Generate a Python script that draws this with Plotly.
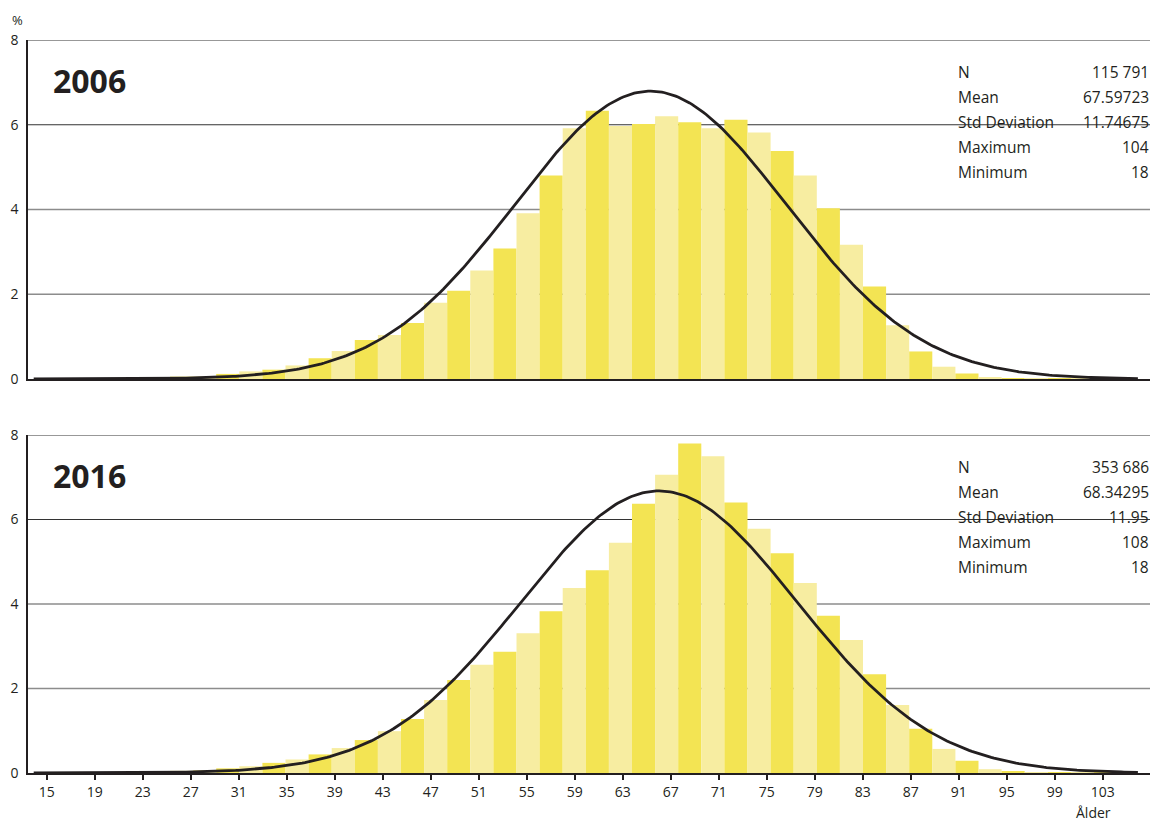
import numpy as np
import plotly.graph_objects as go

W, H = 1152, 823

# ---------------- data ----------------
bin_start = list(range(18, 108, 2))  # 2-year age bins (start age)

pct_2006 = [0.005, 0.01, 0.02, 0.03, 0.055, 0.06, 0.12, 0.18, 0.22, 0.32,
            0.49, 0.66, 0.92, 1.04, 1.32, 1.80, 2.08, 2.56, 3.08, 3.91,
            4.80, 5.92, 6.33, 5.97, 6.02, 6.20, 6.06, 5.92, 6.12, 5.82,
            5.38, 4.80, 4.03, 3.17, 2.18, 1.27, 0.65, 0.29, 0.13, 0.04,
            0.02, 0.01, 0.005, 0.002, 0.0]

pct_2016 = [0.005, 0.01, 0.02, 0.03, 0.05, 0.07, 0.11, 0.16, 0.24, 0.32,
            0.44, 0.59, 0.78, 0.99, 1.28, 1.73, 2.20, 2.56, 2.87, 3.31,
            3.83, 4.38, 4.80, 5.45, 6.37, 7.06, 7.80, 7.50, 6.40, 5.78,
            5.20, 4.50, 3.72, 3.15, 2.34, 1.61, 1.05, 0.57, 0.29, 0.09,
            0.03, 0.015, 0.01, 0.005, 0.003]

stat_labels = ["N", "Mean", "Std Deviation", "Maximum", "Minimum"]
stats_2006 = ["115 791", "67.59723", "11.74675", "104", "18"]
stats_2016 = ["353 686", "68.34295", "11.95", "108", "18"]
mean_2006, sd_2006 = 67.59723, 11.74675
mean_2016, sd_2016 = 68.34295, 11.95
bin_width = 2

x_ticks = list(range(15, 104, 4))
y_ticks = [0, 2, 4, 6, 8]
years = ["2006", "2016"]

# ---------------- style ----------------
DARK_Y = "#F3E453"
LIGHT_Y = "#F7EDA1"
INK = "#231F20"
FONT = "Open Sans"

def px_x(p):
    return p / W

def px_y(p):
    return 1 - p / H

x_dom = [px_x(28), px_x(1150)]
hist_range = [13.706, 110.848]
tick_range = [13.442, 106.933]

bar_colors = [DARK_Y if (b % 4 == 2) else LIGHT_Y for b in bin_start]

def normal_curve(mean, sd):
    xs = np.linspace(14.2, 109.8, 400)
    ys = 100 * bin_width * np.exp(-0.5 * ((xs - mean) / sd) ** 2) / (sd * np.sqrt(2 * np.pi))
    return xs, ys

fig = go.Figure()

panels = [("x", "y", pct_2006, mean_2006, sd_2006),
          ("x2", "y2", pct_2016, mean_2016, sd_2016)]

for xa, ya, vals, m, s in panels:
    fig.add_trace(go.Bar(x=bin_start, y=vals, width=bin_width, offset=0,
                         marker=dict(color=bar_colors, line=dict(width=0)),
                         xaxis=xa, yaxis=ya, hoverinfo="skip"))
    cx, cy = normal_curve(m, s)
    fig.add_trace(go.Scatter(x=cx, y=cy, mode="lines",
                             line=dict(color=INK, width=2.8),
                             xaxis=xa, yaxis=ya, hoverinfo="skip"))

# invisible trace to carry the tick axis
fig.add_trace(go.Scatter(x=x_ticks, y=[0] * len(x_ticks), mode="markers",
                         marker=dict(opacity=0), xaxis="x3", yaxis="y2",
                         hoverinfo="skip"))

common_x = dict(range=hist_range, domain=x_dom, showline=True, linecolor=INK,
                linewidth=2, showticklabels=False, ticks="", showgrid=False,
                zeroline=False, fixedrange=True, automargin=False)
common_y = dict(range=[0, 8], tickvals=y_ticks, showline=True, linecolor=INK,
                linewidth=1.5, ticks="outside", ticklen=5,
                tickcolor="rgba(0,0,0,0)", showgrid=False, zeroline=False,
                tickfont=dict(family=FONT, size=14, color=INK), fixedrange=True,
                automargin=False)

fig.update_layout(
    width=W, height=H,
    margin=dict(l=0, r=0, t=0, b=0, autoexpand=False),
    paper_bgcolor="white", plot_bgcolor="white",
    showlegend=False, barmode="overlay",
    font=dict(family=FONT, color=INK),
    xaxis=dict(anchor="y", **common_x),
    xaxis2=dict(anchor="y2", **common_x),
    xaxis3=dict(overlaying="x2", anchor="y2", range=tick_range, domain=x_dom,
                tickvals=x_ticks, ticks="outside", ticklen=6, tickwidth=1.5,
                tickcolor=INK, showline=False, showgrid=False, zeroline=False,
                tickfont=dict(family=FONT, size=14, color=INK), side="bottom",
                fixedrange=True, automargin=False),
    yaxis=dict(anchor="x", domain=[px_y(379), px_y(40)], **common_y),
    yaxis2=dict(anchor="x2", domain=[px_y(773), px_y(435)], **common_y),
)

# horizontal grid lines
shapes = []
for yref in ["y", "y2"]:
    for g in [2, 4, 6, 8]:
        dark = g >= 6
        shapes.append(dict(type="line", xref="paper", yref=yref,
                           x0=x_dom[0], x1=x_dom[1], y0=g, y1=g,
                           line=dict(color="#333333" if dark else "#8c8c8c",
                                     width=1.2 if dark else 1.5),
                           layer="below"))
fig.update_layout(shapes=shapes)

ann = []
# year titles
for yr, ypx in zip(years, [80, 475]):
    ann.append(dict(text="<b>" + yr + "</b>", x=px_x(51), y=px_y(ypx),
                    xref="paper", yref="paper", xanchor="left", yanchor="middle",
                    showarrow=False, font=dict(family=FONT, size=32, color=INK)))
# stats tables
for vals, y0 in [(stats_2006, 72), (stats_2016, 467)]:
    for i, (lab, v) in enumerate(zip(stat_labels, vals)):
        ypx = y0 + i * 25
        ann.append(dict(text=lab, x=px_x(956), y=px_y(ypx), xref="paper",
                        yref="paper", xanchor="left", yanchor="middle",
                        showarrow=False, font=dict(family=FONT, size=15.5, color=INK)))
        ann.append(dict(text=v, x=px_x(1151), y=px_y(ypx), xref="paper",
                        yref="paper", xanchor="right", yanchor="middle",
                        showarrow=False, font=dict(family=FONT, size=15.5, color=INK)))
# % and Ålder
ann.append(dict(text="%", x=px_x(17), y=px_y(20), xref="paper", yref="paper",
                xanchor="center", yanchor="middle", showarrow=False,
                font=dict(family=FONT, size=13, color=INK)))
ann.append(dict(text="Ålder", x=px_x(1093), y=px_y(812), xref="paper", yref="paper",
                xanchor="center", yanchor="middle", showarrow=False,
                font=dict(family=FONT, size=14, color=INK)))
fig.update_layout(annotations=ann)

fig.write_html("out.html")
